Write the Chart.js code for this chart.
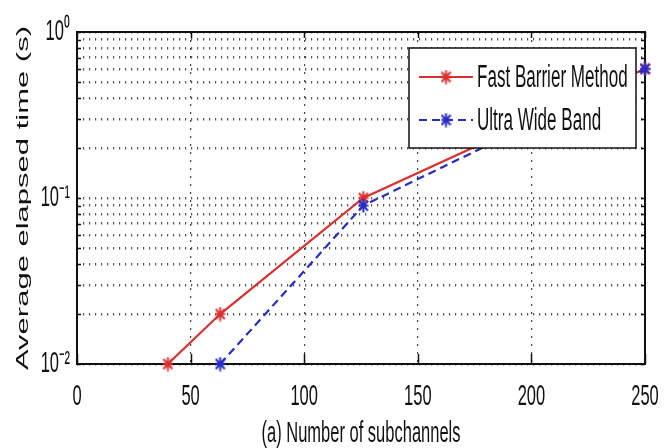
<!DOCTYPE html>
<html>
<head>
<meta charset="utf-8">
<script src="https://cdn.jsdelivr.net/npm/chart.js@4.4.1/dist/chart.umd.min.js"></script>
<style>
  html, body { margin: 0; padding: 0; background: #fff; }
  #wrap { width: 667px; height: 448px; }
</style>
</head>
<body>
<div id="wrap"><canvas id="chart"></canvas></div>
<script>
// values
const fbmSubchannels = [40, 63, 126, 250];
const fbmTime = [0.01, 0.02, 0.1, 0.6];
const uwbSubchannels = [63, 126, 250];
const uwbTime = [0.01, 0.09, 0.6];
const seriesNames = ["Fast Barrier Method", "Ultra Wide Band"];
const xTickValues = [0, 50, 100, 150, 200, 250];
const yLabelValues = [0.01, 0.1, 1];

// minor grid: 1..9 in each decade
const yGridValues = [];
[0.01, 0.1].forEach(d => { for (let m = 1; m <= 9; m++) yGridValues.push(+(m * d).toFixed(3)); });
yGridValues.push(1);

const FONT = "'Liberation Sans', Arial, sans-serif";
const NARROW = 0.55; // the whole figure is squeezed sideways

const SUP = { "-": "\u207B", "0": "\u2070", "1": "\u00B9", "2": "\u00B2" };
function powLabel(v) {
    const e = String(Math.round(Math.log10(v)));
    return "10" + e.split("").map(c => SUP[c]).join("");
}

// MATLAB style '*' marker, narrow like the rest of the picture
function starMarker(color) {
    const c = document.createElement("canvas");
    c.width = 11; c.height = 15;
    const g = c.getContext("2d");
    g.strokeStyle = color;
    g.lineWidth = 2;
    g.beginPath();
    g.moveTo(5.5, 0.5); g.lineTo(5.5, 14.5);
    g.moveTo(0.5, 7.5); g.lineTo(10.5, 7.5);
    g.moveTo(1, 2.5); g.lineTo(10, 12.5);
    g.moveTo(1, 12.5); g.lineTo(10, 2.5);
    g.stroke();
    return c;
}

const canvas = document.getElementById("chart");
const ctx = canvas.getContext("2d");

// squeeze all text horizontally on screen, around its anchor point
const fillText = ctx.fillText;
ctx.fillText = function (text, x, y) {
    const m = this.getTransform();
    const p = m.transformPoint(new DOMPoint(x, y));
    this.save();
    this.setTransform(new DOMMatrix().translate(p.x, p.y).scale(NARROW, 1).translate(-p.x, -p.y).multiply(m));
    fillText.call(this, text, x, y);
    this.restore();
};

const red = "rgb(218, 48, 48)";
const blue = "rgb(38, 44, 196)";

// axes box with inward tick marks
const frame = {
    id: "frame",
    beforeDatasetsDraw(chart) {
        const { ctx, chartArea: a, scales } = chart;
        ctx.save();
        ctx.strokeStyle = "#111";
        ctx.lineWidth = 1.5;
        ctx.beginPath();
        scales.x.ticks.forEach(t => {
            const px = Math.round(scales.x.getPixelForValue(t.value)) + 0.5;
            ctx.moveTo(px, a.bottom); ctx.lineTo(px, a.bottom - 10);
            ctx.moveTo(px, a.top); ctx.lineTo(px, a.top + 6);
        });
        scales.y.ticks.forEach(t => {
            const py = Math.round(scales.y.getPixelForValue(t.value)) + 0.5;
            ctx.moveTo(a.left, py); ctx.lineTo(a.left + 4, py);
            ctx.moveTo(a.right, py); ctx.lineTo(a.right - 4, py);
        });
        ctx.stroke();
        ctx.lineWidth = 2;
        ctx.strokeRect(a.left, a.top, a.right - a.left, a.bottom - a.top);
        ctx.restore();
    }
};

// boxed legend in the upper right corner of the axes
const boxLegend = {
    id: "boxLegend",
    afterDatasetsDraw(chart) {
        const { ctx, chartArea: a } = chart;
        const x0 = a.right - 236, y0 = a.top + 16, w = 227, h = 100;
        ctx.save();
        ctx.fillStyle = "#fff";
        ctx.fillRect(x0, y0, w, h);
        ctx.strokeStyle = "#111";
        ctx.lineWidth = 1.5;
        ctx.strokeRect(x0, y0, w, h);
        chart.data.datasets.forEach((ds, i) => {
            const y = y0 + 29 + i * 43;
            ctx.strokeStyle = ds.borderColor;
            ctx.lineWidth = ds.borderWidth;
            ctx.setLineDash(ds.borderDash || []);
            ctx.beginPath();
            ctx.moveTo(x0 + 10, y);
            ctx.lineTo(x0 + 64, y);
            ctx.stroke();
            ctx.setLineDash([]);
            const m = ds.pointStyle;
            ctx.drawImage(m, x0 + 37 - m.width / 2, y - m.height / 2);
            ctx.fillStyle = "#111";
            ctx.font = "31px " + FONT;
            ctx.textAlign = "left";
            ctx.textBaseline = "middle";
            ctx.fillText(ds.label, x0 + 68, y + 1);
        });
        ctx.restore();
    }
};

Chart.defaults.font.family = FONT;
Chart.defaults.color = "#111";

new Chart(ctx, {
    type: "line",
    data: {
        datasets: [
            {
                label: seriesNames[0],
                data: fbmSubchannels.map((x, i) => ({ x, y: fbmTime[i] })),
                borderColor: red,
                backgroundColor: red,
                borderWidth: 2.2,
                pointStyle: starMarker(red),
                order: 1,
            },
            {
                label: seriesNames[1],
                data: uwbSubchannels.map((x, i) => ({ x, y: uwbTime[i] })),
                borderColor: blue,
                backgroundColor: blue,
                borderWidth: 2.2,
                borderDash: [8, 5],
                pointStyle: starMarker(blue),
                order: 0,
            },
        ],
    },
    options: {
        responsive: true,
        maintainAspectRatio: false,
        animation: false,
        clip: false,
        layout: { padding: { top: 32, right: 22, bottom: 0, left: 0 } },
        plugins: {
            legend: { display: false },
            tooltip: { enabled: false },
        },
        scales: {
            x: {
                type: "linear",
                min: 0,
                max: 250,
                afterBuildTicks: s => { s.ticks = xTickValues.map(v => ({ value: v })); },
                afterFit: s => { s.height = 84; s.paddingLeft = 0; s.paddingRight = 0; },
                grid: { color: "#444", lineWidth: 1.2, drawTicks: false },
                border: { display: false, dash: [2, 6] },
                ticks: { padding: 15, autoSkip: false, maxRotation: 0, font: { size: 30 } },
                title: { display: true, text: "(a) Number of subchannels", font: { size: 30 }, padding: { top: 0, bottom: -4 } },
            },
            y: {
                type: "logarithmic",
                min: 0.01,
                max: 1,
                afterBuildTicks: s => { s.ticks = yGridValues.map(v => ({ value: v })); },
                afterFit: s => { s.width = 77; },
                grid: { color: "#555", lineWidth: 2.5, drawTicks: false },
                border: { display: false, dash: [1.2, 4.8] },
                ticks: {
                    padding: 7,
                    autoSkip: false,
                    font: { size: 30 },
                    callback: v => yLabelValues.some(p => Math.abs(p - v) < 1e-9) ? powLabel(v) : "",
                },
                title: { display: true, text: "Average elapsed time (s)", font: { size: 31 }, padding: 5 },
            },
        },
    },
    plugins: [frame, boxLegend],
});
</script>
</body>
</html>
